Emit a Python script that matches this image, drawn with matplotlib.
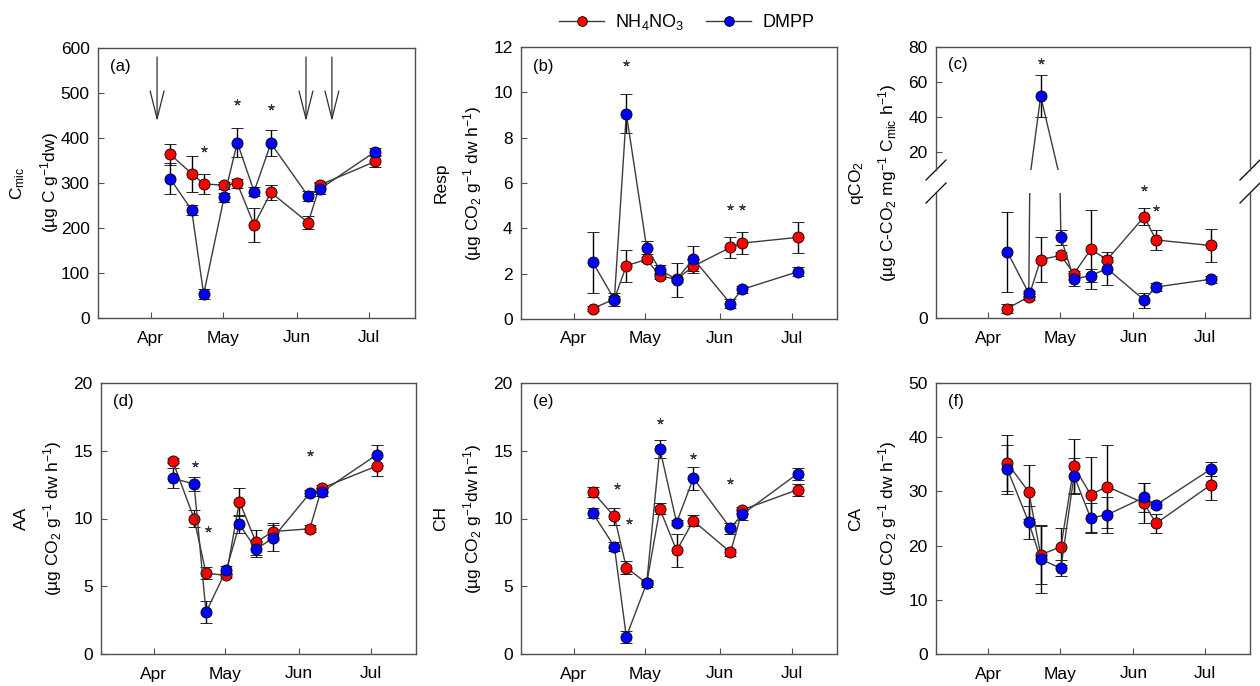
import matplotlib.pyplot as plt
from matplotlib.lines import Line2D

plt.rcParams['font.family'] = ['Liberation Sans', 'DejaVu Sans']
plt.rcParams['mathtext.default'] = 'regular'

# sampling dates as day of year (Apr 1 = 91)
days = [99, 108, 113, 121.5, 127, 134, 141, 156.5, 161.5, 184.5]
month_ticks = [91, 121, 152, 182]
month_labels = ['Apr', 'May', 'Jun', 'Jul']
fert_days = [93.6, 155.6, 166.4]

# (a) microbial biomass C
cmic_nh = [364, 321, 298, 295, 299, 207, 279, 212, 296, 348]
cmic_nh_se = [23, 40, 23, 8, 11, 38, 16, 15, 6, 13]
cmic_dm = [310, 240, 53, 268, 390, 281, 388, 271, 287, 370]
cmic_dm_se = [35, 12, 11, 10, 32, 10, 29, 12, 12, 8]

# (b) basal respiration
resp_nh = [0.46, 0.88, 2.35, 2.63, 1.90, 1.75, 2.33, 3.16, 3.35, 3.60]
resp_nh_se = [0.1, 0.15, 0.7, 0.12, 0.15, 0.1, 0.3, 0.45, 0.5, 0.68]
resp_dm = [2.50, 0.86, 9.06, 3.14, 2.18, 1.74, 2.66, 0.68, 1.31, 2.08]
resp_dm_se = [1.35, 0.3, 0.85, 0.28, 0.2, 0.75, 0.55, 0.2, 0.15, 0.2]

# (c) metabolic quotient
qco2_nh = [0.38, 0.85, 2.34, 2.50, 1.77, 2.74, 2.34, 4.05, 3.12, 2.90]
qco2_nh_se = [0.17, 0.12, 0.9, 0.15, 0.1, 1.56, 0.1, 0.35, 0.4, 0.65]
qco2_dm = [2.64, 0.99, 52.0, 3.22, 1.55, 1.70, 1.97, 0.72, 1.24, 1.55]
qco2_dm_se = [1.6, 0.1, 12, 0.3, 0.25, 0.25, 0.65, 0.3, 0.15, 0.15]

# (d) AA
aa_nh = [14.26, 10.0, 5.96, 5.8, 11.25, 8.23, 9.04, 9.24, 12.24, 13.87]
aa_nh_se = [0.2, 0.6, 0.45, 0.2, 1.0, 0.9, 0.65, 0.25, 0.2, 0.7]
aa_dm = [12.98, 12.54, 3.08, 6.2, 9.56, 7.73, 8.55, 11.87, 11.95, 14.7]
aa_dm_se = [0.75, 0.5, 0.8, 0.3, 0.6, 0.6, 0.95, 0.2, 0.3, 0.75]

# (e) CH
ch_nh = [11.95, 10.15, 6.38, 5.22, 10.71, 7.64, 9.83, 7.51, 10.64, 12.12]
ch_nh_se = [0.4, 0.6, 0.5, 0.15, 0.4, 1.25, 0.4, 0.25, 0.2, 0.45]
ch_dm = [10.39, 7.93, 1.28, 5.22, 15.15, 9.7, 12.98, 9.29, 10.32, 13.3]
ch_dm_se = [0.35, 0.3, 0.45, 0.25, 0.65, 0.2, 0.85, 0.4, 0.4, 0.45]

# (f) CA
ca_nh = [35.2, 29.9, 18.3, 19.8, 34.6, 29.4, 30.9, 27.8, 24.1, 31.2]
ca_nh_se = [5.2, 5.0, 5.4, 3.4, 5.1, 6.9, 7.7, 3.7, 1.8, 2.8]
ca_dm = [34.1, 24.3, 17.5, 15.8, 32.9, 25.1, 25.7, 28.9, 27.5, 34.1]
ca_dm_se = [4.5, 3.0, 6.3, 1.5, 3.2, 2.8, 3.3, 2.7, 0.6, 1.3]

# significance stars (x, y)
stars_a = ([113, 127, 141], [376, 481, 469])
stars_b = ([113, 156.5, 161.5], [11.3, 4.95, 4.95])
stars_c_top = ([113], [71.8])
stars_c_low = ([156.5, 161.5], [5.2, 4.4])
stars_d = ([108.5, 114, 156.5], [14.0, 9.2, 14.8])
stars_e = ([109, 114, 127, 141, 156.5], [12.4, 9.8, 17.2, 14.6, 12.8])

W, H = 1260, 686
line_c = '#3c3c3c'
spine_c = '#505050'
fs = 12.5

fig = plt.figure(figsize=(W / 100, H / 100), dpi=100)


def px_axes(left, top, right, bottom):
    return fig.add_axes([left / W, 1 - bottom / H, (right - left) / W, (bottom - top) / H])


def style(ax, ylim, yticks, xticks=True):
    ax.set_xlim(69, 201)
    ax.set_ylim(*ylim)
    ax.set_yticks(yticks)
    if xticks:
        ax.set_xticks(month_ticks)
        ax.set_xticklabels(month_labels)
    else:
        ax.set_xticks([])
    for s in ax.spines.values():
        s.set_color(spine_c)
        s.set_linewidth(1)
    ax.tick_params(direction='in', length=4, width=0.8, color=spine_c, labelsize=fs)
    ax.tick_params(axis='x', pad=9)
    ax.tick_params(axis='y', pad=6)


def draw(ax, y_nh, e_nh, y_dm, e_dm):
    for y, e, c in ((y_nh, e_nh, 'red'), (y_dm, e_dm, 'blue')):
        ax.errorbar(days, y, yerr=e, fmt='-o', color=line_c, lw=1, mfc=c, mec='black',
                    mew=0.6, ms=8, ecolor='black', elinewidth=1, capsize=4.5, capthick=1)


def stars(ax, pts):
    ax.plot(pts[0], pts[1], ls='none', marker=(5, 2, 0), ms=4.5, mew=0.8, color='#3a3a4a',
            clip_on=False)


def ylabel(left_px, center_px, l1, l2):
    fig.text((left_px - 80) / W, 1 - center_px / H, l1, rotation=90, ha='center', va='center', fontsize=fs)
    fig.text((left_px - 48) / W, 1 - center_px / H, l2, rotation=90, ha='center', va='center', fontsize=fs)


def tag(ax, s, y=0.93):
    ax.text(0.038, y, s, transform=ax.transAxes, fontsize=12, va='center')


# (a)
ax = px_axes(98, 48, 415, 318)
style(ax, (0, 600), range(0, 601, 100))
draw(ax, cmic_nh, cmic_nh_se, cmic_dm, cmic_dm_se)
stars(ax, stars_a)
for d in fert_days:
    ax.annotate('', xy=(d, 437), xytext=(d, 580),
                arrowprops=dict(arrowstyle='->,head_length=2.0,head_width=0.5', lw=0.9,
                                color='#303030', shrinkA=0, shrinkB=0, mutation_scale=10))
tag(ax, '(a)')
ylabel(98, 183, 'C$_{mic}$', '(µg C g$^{-1}$dw)')

# (b)
ax = px_axes(521, 47, 837, 319)
style(ax, (0, 12), range(0, 13, 2))
draw(ax, resp_nh, resp_nh_se, resp_dm, resp_dm_se)
stars(ax, stars_b)
tag(ax, '(b)')
ylabel(521, 183, 'Resp', '(µg CO$_2$ g$^{-1}$ dw h$^{-1}$)')

# (c) broken axis
ax_top = px_axes(936, 47, 1250, 170)
ax_low = px_axes(936, 193, 1250, 318)
style(ax_top, (10, 80), [20, 40, 60, 80], xticks=False)
style(ax_low, (0, 5), [0])
ax_top.spines['bottom'].set_visible(False)
ax_low.spines['top'].set_visible(False)
for a in (ax_top, ax_low):
    draw(a, qco2_nh, qco2_nh_se, qco2_dm, qco2_dm_se)
stars(ax_top, stars_c_top)
stars(ax_low, stars_c_low)
tag(ax_top, '(c)', y=0.86)
for a, yc, hh in ((ax_top, 0.0, 123), (ax_low, 1.0, 125)):
    for xc in (0.0, 1.0):
        a.plot([xc - 10 / 314, xc + 10 / 314], [yc - 10 / hh, yc + 10 / hh],
               transform=a.transAxes, color='black', lw=0.9, clip_on=False)
ylabel(936, 182.5, 'qCO$_2$', '(µg C-CO$_2$ mg$^{-1}$ C$_{mic}$ h$^{-1}$)')

# (d)
ax = px_axes(101, 383, 416, 654)
style(ax, (0, 20), range(0, 21, 5))
draw(ax, aa_nh, aa_nh_se, aa_dm, aa_dm_se)
stars(ax, stars_d)
tag(ax, '(d)')
ylabel(101, 518.5, 'AA', '(µg CO$_2$ g$^{-1}$ dw h$^{-1}$)')

# (e)
ax = px_axes(521, 383, 837, 654)
style(ax, (0, 20), range(0, 21, 5))
draw(ax, ch_nh, ch_nh_se, ch_dm, ch_dm_se)
stars(ax, stars_e)
tag(ax, '(e)')
ylabel(521, 518.5, 'CH', '(µg CO$_2$ g$^{-1}$dw h$^{-1}$)')

# (f)
ax = px_axes(936, 383, 1250, 654)
style(ax, (0, 50), range(0, 51, 10))
draw(ax, ca_nh, ca_nh_se, ca_dm, ca_dm_se)
tag(ax, '(f)')
ylabel(936, 518.5, 'CA', '(µg CO$_2$ g$^{-1}$ dw h$^{-1}$)')

# legend
handles = [Line2D([], [], color=line_c, lw=1, marker='o', mfc=c, mec='black', mew=0.6, ms=7)
           for c in ('red', 'blue')]
fig.legend(handles, ['NH$_4$NO$_3$', 'DMPP'], loc='center', bbox_to_anchor=(0.545, 0.968),
           ncol=2, frameon=False, fontsize=13, handlelength=2.5, columnspacing=1.2,
           handletextpad=0.6)

fig.savefig('out.png', dpi=100)
